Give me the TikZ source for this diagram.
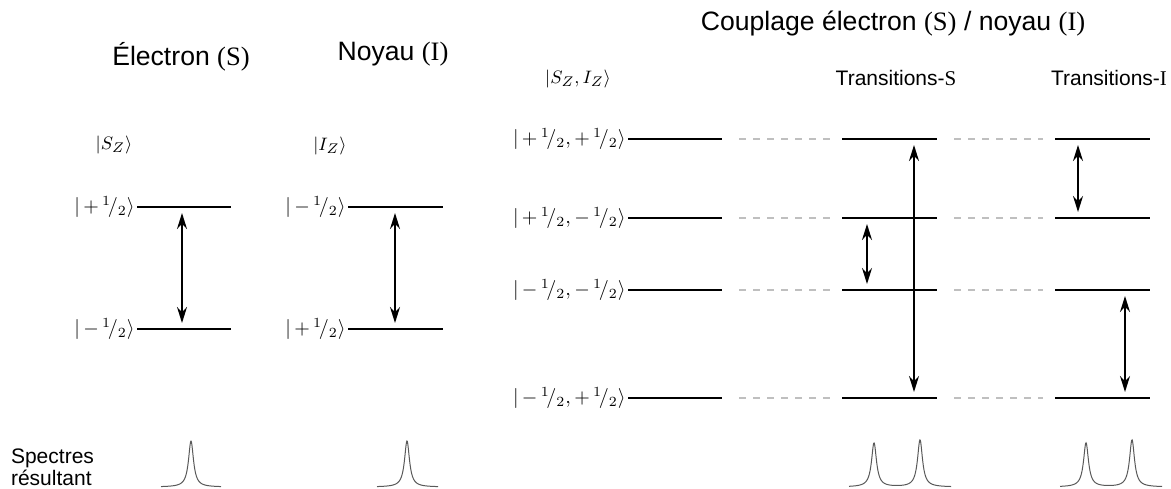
\documentclass[tikz,border=0pt]{standalone}
\usepackage[no-math]{fontspec}
\setmainfont{Liberation Sans}
\newfontfamily\serifrm{Liberation Serif}
\usepackage{amsmath}
\usetikzlibrary{arrows.meta, positioning}

\newcommand{\half}{{}^{1}\!/_{2}}

\begin{document}
\begin{tikzpicture}[
    x=0.5pt, y=-0.5pt,
    title/.style={font=\fontsize{13.3}{15}\selectfont},
    subtitle/.style={font=\fontsize{10.5}{12}\selectfont},
    lab/.style={anchor=east, inner sep=1pt, font=\fontsize{10}{12}\selectfont},
    ketlab/.style={inner sep=1pt, font=\fontsize{9.5}{11}\selectfont},
    level/.style={line width=1pt},
    link/.style={gray!50, line width=0.7pt, dash pattern=on 3.5pt off 3.5pt,
                 shorten <=8.5pt, shorten >=6pt},
    trans/.style={{Stealth[length=8pt,width=5pt]}-{Stealth[length=8pt,width=5pt]},
                  line width=0.8pt, shorten <=3pt, shorten >=3pt},
    spec/.style={gray!70!black, line width=0.5pt},
]
    \useasboundingbox (0,0) rectangle (1171,488);

    % titles
    \node[title] (tel) at (181,57) {Électron {\serifrm (S)}};
    \node[title] (tno) at (393,54) {Noyau {\serifrm (I)}};
    \node[title] (tcp) at (893,24) {Couplage électron {\serifrm (S)} / noyau {\serifrm (I)}};
    \node[subtitle] (tts) at (896,78) {Transitions-{\serifrm S}};
    \node[subtitle] (tti) at (1109,78) {Transitions-{\serifrm I}};
    \node[subtitle, anchor=west, align=left, font=\fontsize{10.5}{11}\selectfont]
        (spec) at (4,467) {Spectres\\résultant};

    \node[ketlab] (ksz) at (114,145) {$|S_Z\rangle$};
    \node[ketlab] (kiz) at (330,146) {$|I_Z\rangle$};
    \node[ketlab] (ksi) at (578,79) {$|S_Z, I_Z\rangle$};

    % electron and noyau alone
    \foreach \n/\xa/\xb/\s/\t in {e/137/231/+/-, n/348/443/-/+} {
        \coordinate (\n a1) at (\xa,207); \coordinate (\n b1) at (\xb,207);
        \coordinate (\n a2) at (\xa,329); \coordinate (\n b2) at (\xb,329);
        \draw[level] (\n a1) -- (\n b1);
        \draw[level] (\n a2) -- (\n b2);
        \node[lab] (\n l1) at (\n a1) {$|\,{\s}\,\half\rangle$};
        \node[lab] (\n l2) at (\n a2) {$|\,{\t}\,\half\rangle$};
    }
    \coordinate (et1) at (182,207); \coordinate (et2) at (182,329);
    \coordinate (nt1) at (395,207); \coordinate (nt2) at (395,329);
    \draw[trans] (et1) -- (et2);
    \draw[trans] (nt1) -- (nt2);

    % coupled levels
    \foreach \y [count=\i] in {139,218,290,398} {
        \coordinate (ca\i) at (628,\y);  \coordinate (cb\i) at (722,\y);
        \coordinate (ma\i) at (842,\y);  \coordinate (mb\i) at (937,\y);
        \coordinate (ra\i) at (1055,\y); \coordinate (rb\i) at (1150,\y);
        \draw[level] (ca\i) -- (cb\i);
        \draw[level] (ma\i) -- (mb\i);
        \draw[level] (ra\i) -- (rb\i);
        \draw[link] (cb\i) -- (ma\i);
        \draw[link] (mb\i) -- (ra\i);
    }
    \foreach \i/\s/\t in {1/+/+, 2/+/-, 3/-/-, 4/-/+}
        \node[lab] (cl\i) at (ca\i) {$|\,{\s}\,\half,{\t}\,\half\rangle$};

    % S and I transitions
    \coordinate (sa) at (914,139);  \coordinate (sb) at (914,398);
    \coordinate (sc) at (867,218);  \coordinate (sd) at (867,290);
    \coordinate (ia) at (1078,139); \coordinate (ib) at (1078,218);
    \coordinate (ic) at (1125,290); \coordinate (id) at (1125,398);
    \foreach \a/\b in {sa/sb, sc/sd, ia/ib, ic/id}
        \draw[trans] (\a) -- (\b);

    % spectra
    \foreach \c/\a/\b in {191/161/221, 407/377/438}
        \draw[spec] plot[domain=\a:\b, samples=160, smooth]
            (\x, {487 - 46*9/((\x-\c)^2+9)});
    \foreach \p/\q/\a/\b in {874/920/849/951, 1086/1132/1060/1162}
        \draw[spec] plot[domain=\a:\b, samples=240, smooth]
            (\x, {487 - 44*9/((\x-\p)^2+9) - 47*9/((\x-\q)^2+9)});
\end{tikzpicture}
\end{document}
